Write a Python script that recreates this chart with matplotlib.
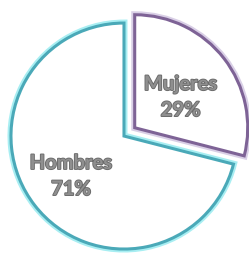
import matplotlib
matplotlib.use("Agg")
import matplotlib.pyplot as plt
import matplotlib.patheffects as pe

categories = ["Mujeres", "Hombres"]
values = [29, 71]
pct_labels = ["29%", "71%"]

edge_colors = ["#7e6396", "#4aa9b8"]
glow_colors = ["#d9cfe6", "#a8eef2"]

fig = plt.figure(figsize=(2.49, 2.60), dpi=100)
ax = fig.add_axes([0, 0, 1, 1])

wedges, _ = ax.pie(values, startangle=90, counterclock=False,
                   explode=[0.12, 0], colors=["white", "white"],
                   wedgeprops=dict(linewidth=2.2))
ax.set_xlim(-1.097, 1.106)
ax.set_ylim(-1.097, 1.204)
ax.set_aspect("auto")
ax.axis("off")
for w, ec, gc in zip(wedges, edge_colors, glow_colors):
    w.set_edgecolor(ec)
    w.set_path_effects([pe.Stroke(linewidth=5, foreground=gc), pe.Normal()])

text_pos = [(0.50, 0.345), (-0.47, -0.354)]
for (x, y), cat, p in zip(text_pos, categories, pct_labels):
    ax.text(x, y, f"{cat}\n{p}", ha="center", va="center", fontsize=14.5,
            fontweight="bold", family="Lato", color="#8f8f8f", linespacing=1.38,
            path_effects=[pe.Stroke(linewidth=1.3, foreground="#6a6a6a"), pe.Normal()])

fig.savefig("out.png", dpi=100)
